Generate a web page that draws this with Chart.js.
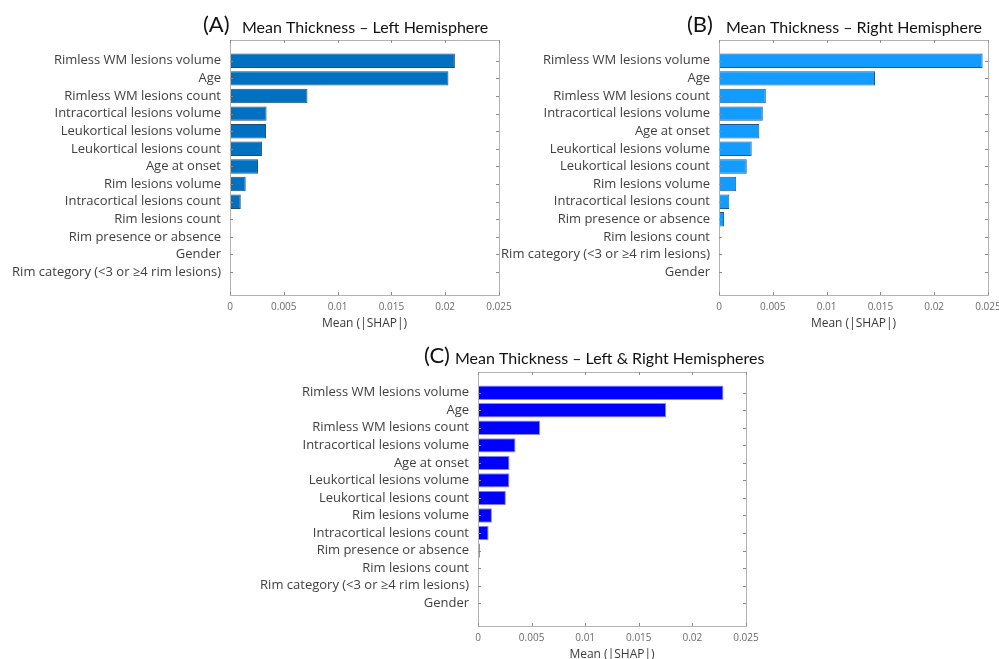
<!DOCTYPE html>
<html>
<head>
<meta charset="utf-8">
<script src="https://cdn.jsdelivr.net/npm/chart.js@4.4.1/dist/chart.umd.min.js"></script>
<style>
  html, body { margin: 0; padding: 0; background: #ffffff; }
  #wrap { position: relative; width: 999px; height: 659px; overflow: hidden; }
  #wrap canvas { position: absolute; left: 0; top: 0; }
</style>
</head>
<body>
<div id="wrap">
  <canvas id="chartA" width="999" height="659"></canvas>
  <canvas id="chartB" width="999" height="659"></canvas>
  <canvas id="chartC" width="999" height="659"></canvas>
</div>
<script>
// Feature names (top to bottom) and mean |SHAP| values for each panel
const featuresLeft = [
  'Rimless WM lesions volume', 'Age', 'Rimless WM lesions count',
  'Intracortical lesions volume', 'Leukortical lesions volume',
  'Leukortical lesions count', 'Age at onset', 'Rim lesions volume',
  'Intracortical lesions count', 'Rim lesions count',
  'Rim presence or absence', 'Gender', 'Rim category (<3 or \u22654 rim lesions)'
];
const shapLeft = [0.0209, 0.0203, 0.0072, 0.0034, 0.00335, 0.00297, 0.0026,
  0.00146, 0.001, 0.0001, 0, 0, 0];

const featuresRight = [
  'Rimless WM lesions volume', 'Age', 'Rimless WM lesions count',
  'Intracortical lesions volume', 'Age at onset', 'Leukortical lesions volume',
  'Leukortical lesions count', 'Rim lesions volume',
  'Intracortical lesions count', 'Rim presence or absence',
  'Rim lesions count', 'Rim category (<3 or \u22654 rim lesions)', 'Gender'
];
const shapRight = [0.0245, 0.0145, 0.00435, 0.00407, 0.00375, 0.00304, 0.00258,
  0.0016, 0.00096, 0.00047, 0.0001, 0, 0];

const featuresBoth = [
  'Rimless WM lesions volume', 'Age', 'Rimless WM lesions count',
  'Intracortical lesions volume', 'Age at onset', 'Leukortical lesions volume',
  'Leukortical lesions count', 'Rim lesions volume',
  'Intracortical lesions count', 'Rim presence or absence',
  'Rim lesions count', 'Rim category (<3 or \u22654 rim lesions)', 'Gender'
];
const shapBoth = [0.0229, 0.01756, 0.0058, 0.0035, 0.00294, 0.00293, 0.0026,
  0.0013, 0.00099, 0.0002, 0.00005, 0, 0];

const xTicks = [0, 0.005, 0.01, 0.015, 0.02, 0.025];
const xAxisTitle = 'Mean (|SHAP|)';

const LABEL_FONT = '"Open Sans", "DejaVu Sans", sans-serif';
const TITLE_FONT = 'Lato, "Open Sans", sans-serif';

// Boxed axes with short inward tick marks on every side
const boxPlugin = {
  id: 'boxAxes',
  afterDatasetsDraw(chart) {
    const { ctx, chartArea: a, scales: { x, y } } = chart;
    ctx.save();
    ctx.strokeStyle = '#b3b3b3';
    ctx.lineWidth = 1;
    ctx.strokeRect(Math.round(a.left) + 0.5, Math.round(a.top) + 0.5,
      Math.round(a.right - a.left), Math.round(a.bottom - a.top));
    ctx.strokeStyle = '#8c8c8c';
    ctx.beginPath();
    const t = 3;
    x.ticks.forEach(tk => {
      const px = Math.round(x.getPixelForValue(tk.value)) + 0.5;
      ctx.moveTo(px, a.bottom); ctx.lineTo(px, a.bottom - t);
      ctx.moveTo(px, a.top); ctx.lineTo(px, a.top + t);
    });
    y.ticks.forEach(tk => {
      const py = Math.round(y.getPixelForValue(tk.value)) + 0.5;
      ctx.moveTo(a.left, py); ctx.lineTo(a.left + t, py);
      ctx.moveTo(a.right, py); ctx.lineTo(a.right - t, py);
    });
    ctx.stroke();
    ctx.restore();
  }
};

// Panel heading: large panel letter followed by the title text
const headingPlugin = {
  id: 'heading',
  afterDraw(chart, args, opts) {
    const { ctx } = chart;
    ctx.save();
    ctx.fillStyle = '#111111';
    ctx.textBaseline = 'alphabetic';
    ctx.textAlign = 'left';
    ctx.font = '22px ' + TITLE_FONT;
    ctx.fillText(opts.letter, opts.letterX, opts.baseline);
    ctx.font = '16px ' + TITLE_FONT;
    ctx.fillText(opts.text, opts.textX, opts.baseline + 1);
    ctx.restore();
  }
};

function makeChart(id, names, values, fill, edge, box, heading) {
  const W = 999, H = 659, AXIS_H = 40;
  return new Chart(document.getElementById(id), {
    type: 'bar',
    data: {
      datasets: [{
        data: values.map((v, i) => ({ x: v, y: i })),
        backgroundColor: fill,
        borderColor: edge,
        borderWidth: 1,
        borderSkipped: false,
        categoryPercentage: 1,
        barPercentage: 0.82
      }]
    },
    plugins: [boxPlugin, headingPlugin],
    options: {
      indexAxis: 'y',
      responsive: false,
      animation: false,
      events: [],
      layout: {
        padding: { left: 0, top: box.top, right: W - box.right, bottom: H - box.bottom - AXIS_H }
      },
      plugins: {
        legend: { display: false },
        tooltip: { enabled: false },
        heading: heading
      },
      scales: {
        x: {
          type: 'linear',
          min: 0, max: 0.025,
          offset: false,
          afterFit(s) { s.height = AXIS_H; s.paddingLeft = 0; s.paddingRight = 0; },
          afterBuildTicks(s) { s.ticks = xTicks.map(v => ({ value: v })); },
          grid: { display: false, drawTicks: false },
          border: { display: false },
          ticks: {
            padding: 6,
            color: '#6b6b6b',
            font: { family: LABEL_FONT, size: 10 },
            maxRotation: 0,
            autoSkip: false,
            callback: v => String(+Number(v).toFixed(3))
          },
          title: {
            display: true,
            text: xAxisTitle,
            color: '#3a3a3a',
            font: { family: LABEL_FONT, size: 12 },
            padding: { top: 0, bottom: 4 }
          }
        },
        y: {
          type: 'linear',
          reverse: true,
          offset: false,
          min: -1.18, max: 13.3,
          afterFit(s) { s.width = box.left; s.paddingTop = 0; s.paddingBottom = 0; },
          afterBuildTicks(s) { s.ticks = names.map((n, i) => ({ value: i })); },
          grid: { display: false, drawTicks: false, offset: false },
          border: { display: false },
          ticks: {
            padding: 9,
            color: '#404040',
            font: { family: LABEL_FONT, size: 13 },
            autoSkip: false,
            callback: v => names[v]
          }
        }
      }
    }
  });
}

makeChart('chartA', featuresLeft, shapLeft, '#0070c0', '#1f4e79',
  { left: 230, right: 499, top: 40, bottom: 295 },
  { letter: '(A)', letterX: 203, text: 'Mean Thickness \u2013 Left Hemisphere', textX: 242, baseline: 32 });

makeChart('chartB', featuresRight, shapRight, '#139cff', '#1f5a8c',
  { left: 719, right: 988, top: 40, bottom: 295 },
  { letter: '(B)', letterX: 687, text: 'Mean Thickness \u2013 Right Hemisphere', textX: 726, baseline: 32 });

makeChart('chartC', featuresBoth, shapBoth, '#0000ff', '#8c8cf0',
  { left: 478, right: 746, top: 372, bottom: 626 },
  { letter: '(C)', letterX: 424, text: 'Mean Thickness \u2013 Left & Right Hemispheres', textX: 455, baseline: 363 });
</script>
</body>
</html>
